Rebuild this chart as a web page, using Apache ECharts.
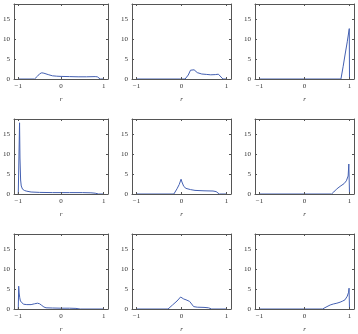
<!DOCTYPE html>
<html><head><meta charset="utf-8">
<script src="https://cdn.jsdelivr.net/npm/echarts@6/dist/echarts.min.js"></script>
<style>html,body{margin:0;padding:0;background:#fff}#c{width:358px;height:334px}</style>
</head><body><div id="c"></div>
<script>
// Tick labels
const xTicks = [-1, 0, 1];
const yTicks = [0, 5, 10, 15];
const xName = 'r';

// Panel data (r positions and density values), row by row
const r1 = [-1, -0.62, -0.55, -0.5, -0.45, -0.4, -0.3, -0.2, -0.1, 0, 0.2, 0.4, 0.6, 0.8, 0.85, 0.92, 1];
const d1 = [0, 0, 0.7, 1.3, 1.55, 1.45, 1.1, 0.8, 0.7, 0.65, 0.6, 0.55, 0.55, 0.6, 0.55, 0, 0];

const r2 = [-1, 0.08, 0.15, 0.2, 0.24, 0.28, 0.35, 0.45, 0.55, 0.65, 0.75, 0.82, 0.86, 0.92, 1];
const d2 = [0, 0, 1.0, 2.2, 2.7, 2.3, 1.6, 1.25, 1.15, 1.05, 1.1, 1.2, 1.1, 0, 0];

const r3 = [-1, 0.81, 0.86, 0.9, 0.95, 0.995, 1.0];
const d3 = [0, 0, 3.2, 6.0, 9.3, 12.6, 0];

const r4 = [-1, -0.985, -0.97, -0.96, -0.945, -0.93, -0.9, -0.85, -0.8, -0.7, -0.5, -0.2, 0.2, 0.5, 0.7, 0.8, 0.88, 1];
const d4 = [0, 0, 17.8, 9, 3.5, 2.0, 1.2, 0.85, 0.7, 0.5, 0.4, 0.35, 0.35, 0.35, 0.3, 0.2, 0, 0];

const r5 = [-1, -0.17, -0.1, -0.05, -0.01, 0.01, 0.05, 0.1, 0.2, 0.3, 0.5, 0.7, 0.77, 0.84, 1];
const d5 = [0, 0, 1.3, 2.4, 3.7, 3.0, 1.9, 1.4, 1.1, 0.9, 0.8, 0.75, 0.6, 0, 0];

const r6 = [-1, 0.6, 0.65, 0.71, 0.79, 0.88, 0.93, 0.97, 0.985, 1.0];
const d6 = [0, 0, 0.5, 1.2, 1.9, 2.6, 3.3, 4.5, 7.5, 0];

const r7 = [-1, -0.99, -0.98, -0.965, -0.95, -0.92, -0.88, -0.8, -0.7, -0.62, -0.55, -0.5, -0.45, -0.4, -0.35, -0.2, 0, 0.2, 0.35, 0.45, 1];
const d7 = [0, 5.7, 4.0, 2.8, 2.0, 1.5, 1.2, 1.1, 1.1, 1.3, 1.45, 1.3, 0.9, 0.5, 0.3, 0.25, 0.2, 0.2, 0.15, 0, 0];

const r8 = [-1, -0.3, -0.2, -0.1, -0.02, 0.05, 0.1, 0.18, 0.22, 0.27, 0.35, 0.5, 0.6, 0.67, 1];
const d8 = [0, 0, 1.0, 2.0, 3.0, 2.5, 2.3, 1.9, 1.4, 0.6, 0.45, 0.4, 0.3, 0, 0];

const r9 = [-1, 0.4, 0.5, 0.57, 0.64, 0.72, 0.79, 0.85, 0.9, 0.95, 0.98, 0.99, 1.0];
const d9 = [0, 0, 0.6, 1.0, 1.25, 1.45, 1.7, 2.0, 2.3, 3.2, 4.2, 5.2, 0];

const panelsR = [r1, r2, r3, r4, r5, r6, r7, r8, r9];
const panelsD = [d1, d2, d3, d4, d5, d6, d7, d8, d9];

const colLefts = [9, 132, 255];
const rowTops = [4, 119, 234];
const gw = 99, gh = 75;
const font = 'Liberation Serif';
const axisCol = '#555';
const textCol = '#333';
const lineCol = '#4460b2';

const grid = [], xAxis = [], yAxis = [], series = [];
for (let i = 0; i < 9; i++) {
  const row = Math.floor(i / 3), col = i % 3;
  grid.push({left: colLefts[col], top: rowTops[row], width: gw, height: gh, containLabel: false});
  const common = {gridIndex: i, type: 'value', splitLine: {show: false}, z: 10,
    axisLine: {show: true, onZero: false, lineStyle: {color: axisCol, width: 1}}};
  xAxis.push(Object.assign({}, common, {position: 'bottom', min: -1.1, max: 1.1,
    axisTick: {show: true, inside: true, length: 2, customValues: xTicks, lineStyle: {color: axisCol}},
    axisLabel: {show: true, customValues: xTicks, margin: 4, fontSize: 7, fontFamily: font, color: textCol,
      formatter: v => (v < 0 ? '\u2212' + Math.abs(v) : String(v))},
    name: xName, nameLocation: 'middle', nameGap: 17,
    nameTextStyle: {fontSize: 7, fontFamily: font, fontStyle: 'italic', color: textCol}}));
  xAxis.push(Object.assign({}, common, {position: 'top', min: -1.1, max: 1.1,
    axisTick: {show: true, inside: true, length: 2, customValues: xTicks, lineStyle: {color: axisCol}},
    axisLabel: {show: false}}));
  yAxis.push(Object.assign({}, common, {position: 'left', min: 0, max: 18.75,
    axisTick: {show: true, inside: true, length: 2, customValues: yTicks, lineStyle: {color: axisCol}},
    axisLabel: {show: true, customValues: yTicks, margin: 4, fontSize: 7, fontFamily: font, color: textCol}}));
  yAxis.push(Object.assign({}, common, {position: 'right', min: 0, max: 18.75,
    axisTick: {show: true, inside: true, length: 2, customValues: yTicks, lineStyle: {color: axisCol}},
    axisLabel: {show: false}}));
  const rr = panelsR[i], dd = panelsD[i];
  series.push({type: 'line', xAxisIndex: 2 * i, yAxisIndex: 2 * i, symbol: 'none', animation: false,
    lineStyle: {color: lineCol, width: 1}, z: 2,
    data: rr.map((r, k) => [r, dd[k]])});
}

const chart = echarts.init(document.getElementById('c'), null, {renderer: 'canvas'});
chart.setOption({animation: false, grid, xAxis, yAxis, series});
</script></body></html>
